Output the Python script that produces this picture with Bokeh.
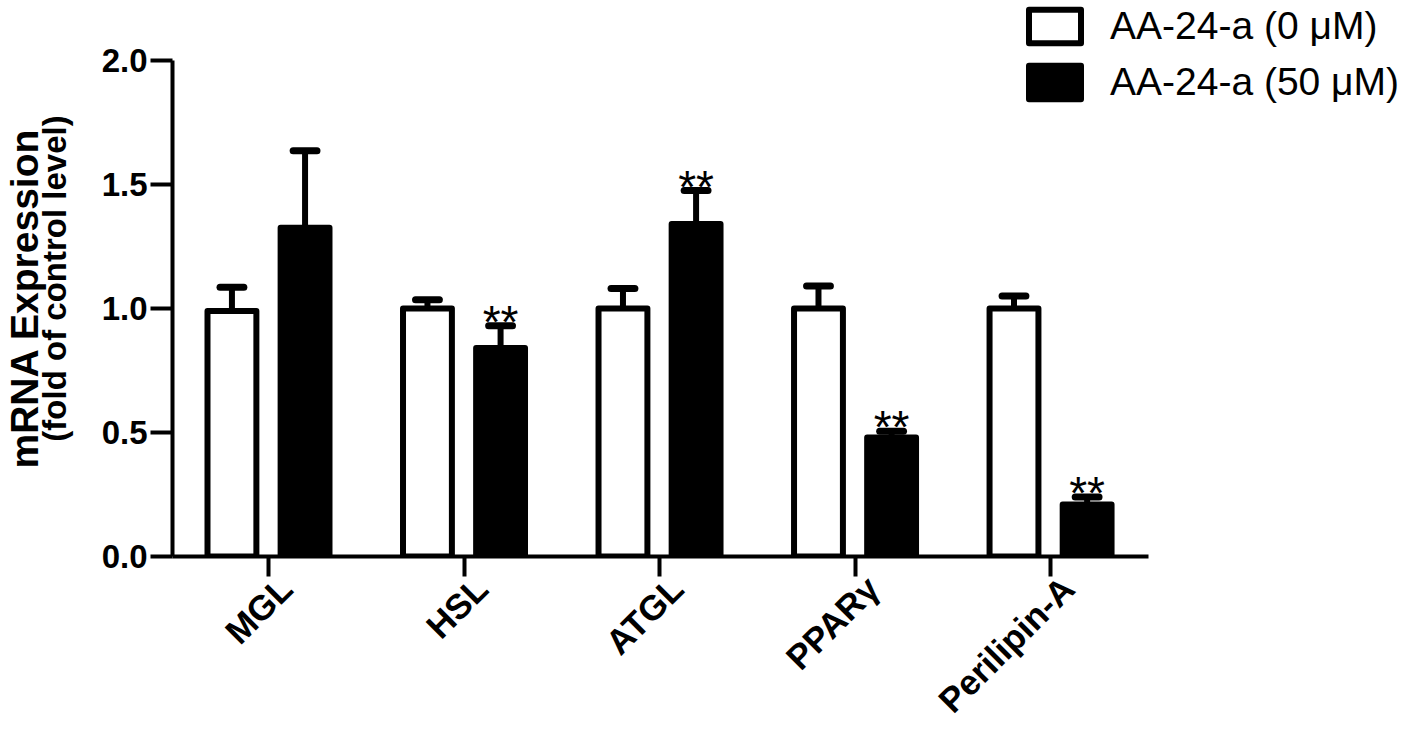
import math
from bokeh.plotting import figure
from bokeh.models import (Range1d, FixedTicker, PrintfTickFormatter,
                          Legend, LegendItem, Title)
from bokeh.core.properties import value
from bokeh.embed import file_html
from bokeh.resources import INLINE

# ---- data ----
genes = ["MGL", "HSL", "ATGL", "PPARγ", "Perilipin-A"]
ctrl_mean = [0.99, 1.00, 1.00, 1.00, 1.00]
ctrl_err = [0.095, 0.035, 0.08, 0.09, 0.05]
treat_mean = [1.325, 0.84, 1.34, 0.48, 0.21]
treat_err = [0.31, 0.09, 0.135, 0.025, 0.03]
treat_sig = ["", "**", "**", "**", "**"]
y_ticks = [0.0, 0.5, 1.0, 1.5, 2.0]
series_labels = ["AA-24-a (0 μM)", "AA-24-a (50 μM)"]

FONT = "Liberation Sans"

# ---- layout helpers ----
offset = 0.187
bar_w = 0.25
cap_half = 0.061
label_shift = 0.09
idx = list(range(len(genes)))
x_ctrl = [i - offset for i in idx]
x_treat = [i + offset for i in idx]
ctrl_top = [m + e for m, e in zip(ctrl_mean, ctrl_err)]
treat_top = [m + e for m, e in zip(treat_mean, treat_err)]
label_pos = [i + label_shift for i in idx]

p = figure(width=1410, height=736, output_backend="svg", toolbar_location=None,
           x_range=Range1d(-0.491, 5.841), y_range=Range1d(0, 2.241),
           min_border_left=172, min_border_right=0, min_border_top=0,
           min_border_bottom=178)
p.outline_line_color = None
p.xgrid.visible = False
p.ygrid.visible = False
p.background_fill_color = "white"
p.border_fill_color = "white"

# bars
r_ctrl = p.vbar(x=x_ctrl, top=ctrl_mean, bottom=0, width=bar_w,
                fill_color="white", line_color="black", line_width=6,
                line_join="round")
r_treat = p.vbar(x=x_treat, top=treat_mean, bottom=0, width=bar_w,
                 fill_color="black", line_color="black", line_width=6,
                 line_join="round")

# error bars (upper only)
for xs, ms, ts in ((x_ctrl, ctrl_mean, ctrl_top), (x_treat, treat_mean, treat_top)):
    p.segment(x0=xs, y0=ms, x1=xs, y1=ts, line_color="black", line_width=6)
    p.segment(x0=[x - cap_half for x in xs], y0=ts,
              x1=[x + cap_half for x in xs], y1=ts,
              line_color="black", line_width=7, line_cap="round")

# significance marks
p.text(x=x_treat, y=treat_top, text=treat_sig, text_align="center",
       text_baseline="alphabetic", y_offset=-4, text_font=value(FONT),
       text_font_size="46px", text_color="black")

# y axis
ya = p.yaxis[0]
ya.ticker = FixedTicker(ticks=y_ticks)
ya.formatter = PrintfTickFormatter(format="%.1f")
ya.bounds = (0, 2.0)
ya.axis_line_width = 4
ya.major_tick_line_width = 4
ya.major_tick_out = 22
ya.major_tick_in = 0
ya.minor_tick_line_color = None
ya.major_label_standoff = 3
ya.major_label_text_font = FONT
ya.major_label_text_font_style = "bold"
ya.major_label_text_font_size = "33px"
ya.major_label_text_color = "black"
ya.axis_label = "(fold of control level)"
ya.axis_label_text_font = FONT
ya.axis_label_text_font_style = "bold"
ya.axis_label_text_font_size = "33px"
ya.axis_label_text_color = "black"
ya.axis_label_standoff = 26

y_title = Title(text="mRNA Expression", align="left", offset=88,
                vertical_align="bottom", standoff=-26, text_font=FONT,
                text_font_style="bold", text_font_size="39px",
                text_color="black")
p.add_layout(y_title, "left")

# x axis: tick marks at group centres (minor ticks), labels just right of them
xa = p.xaxis[0]
xa.ticker = FixedTicker(ticks=label_pos, minor_ticks=idx)
xa.major_label_overrides = {pos: g for pos, g in zip(label_pos, genes)}
xa.bounds = (-0.491, 4.5)
xa.axis_line_width = 4
xa.major_tick_line_color = None
xa.major_tick_out = 20
xa.major_tick_in = 0
xa.minor_tick_line_color = "black"
xa.minor_tick_line_width = 4
xa.minor_tick_out = 20
xa.minor_tick_in = 0
xa.major_label_orientation = math.pi / 4
xa.major_label_standoff = 6
xa.major_label_text_font = FONT
xa.major_label_text_font_style = "bold"
xa.major_label_text_font_size = "35px"
xa.major_label_text_color = "black"

# legend
legend = Legend(items=[LegendItem(label=series_labels[0], renderers=[r_ctrl]),
                       LegendItem(label=series_labels[1], renderers=[r_treat])],
                location=(850, 452), glyph_width=65, glyph_height=42,
                label_text_font=FONT, label_text_font_size="39px",
                label_text_color="black", label_standoff=23, spacing=12,
                padding=0, margin=0, border_line_color=None,
                background_fill_alpha=0)
p.add_layout(legend)

open("out.html", "w").write(file_html(p, INLINE))
